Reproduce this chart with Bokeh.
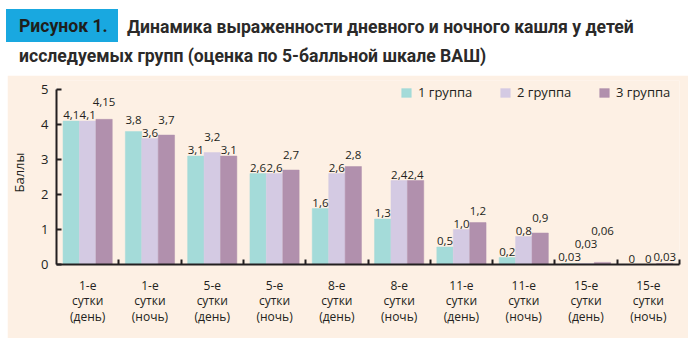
from bokeh.plotting import figure
from bokeh.models import (Range1d, FixedTicker, Legend, LegendItem, ColumnDataSource, Div)
from bokeh.layouts import column
from bokeh.core.properties import value
from bokeh.embed import file_html
from bokeh.resources import INLINE

# ---------------- data ----------------
categories = ["1-е\nсутки\n(день)", "1-е\nсутки\n(ночь)", "5-е\nсутки\n(день)", "5-е\nсутки\n(ночь)",
              "8-е\nсутки\n(день)", "8-е\nсутки\n(ночь)", "11-е\nсутки\n(день)", "11-е\nсутки\n(ночь)",
              "15-е\nсутки\n(день)", "15-е\nсутки\n(ночь)"]
series_names = ["1 группа", "2 группа", "3 группа"]
group1 = [4.1, 3.8, 3.1, 2.6, 1.6, 1.3, 0.5, 0.2, 0.03, 0]
group2 = [4.1, 3.6, 3.2, 2.6, 2.6, 2.4, 1.0, 0.8, 0.03, 0]
group3 = [4.15, 3.7, 3.1, 2.7, 2.8, 2.4, 1.2, 0.9, 0.06, 0.03]
y_ticks = [0, 1, 2, 3, 4, 5]
y_title = "Баллы"
fig_label = "Рисунок 1."
title_line1 = "Динамика выраженности дневного и ночного кашля у детей"
title_line2 = "исследуемых групп (оценка по 5-балльной шкале ВАШ)"

# ---------------- style ----------------
COLORS = ["#A4DBD9", "#D4CAE3", "#B190AD"]
PEACH = "#FDF0E4"
BLUE = "#19A8E0"
DARK = "#231F20"
FONT = "Open Sans"
FS = 11.5  # px, value labels

def fmt(v):
    if v == 0:
        return "0"
    s = f"{v:.1f}" if round(v, 1) == v else f"{v:.2f}"
    return s.replace(".", ",")

# ---------------- title (HTML text) ----------------
title_html = f"""
<div style="position:relative;width:693px;height:75px;background:#ffffff;
            font-family:Roboto, sans-serif;font-weight:bold;font-size:17.6px;line-height:20px;color:#2B2A29;">
  <div style="position:absolute;left:6px;top:9px;width:112px;height:33px;background:{BLUE};"></div>
  <div style="position:absolute;left:19px;top:16px;color:#1E1E1C;white-space:nowrap;">{fig_label}</div>
  <div style="position:absolute;left:127px;top:17px;white-space:nowrap;">{title_line1}</div>
  <div style="position:absolute;left:19px;top:46px;white-space:nowrap;">{title_line2}</div>
</div>
"""
header = Div(text=title_html, width=693, height=75, margin=0)

# ---------------- chart figure ----------------
n = len(categories)
p = figure(width=681, height=263, x_range=Range1d(0, n), y_range=Range1d(0, 5.26),
           min_border_left=40, min_border_right=9, min_border_top=5, min_border_bottom=74,
           toolbar_location=None, output_backend="svg",
           background_fill_color=PEACH, border_fill_color=PEACH, outline_line_color=None)
p.margin = (0, 5, 13, 7)
p.grid.visible = False

bar_w = 0.262
offsets = [-0.264, 0.0, 0.264]
series = [group1, group2, group3]
renderers = []
px_per_unit = 184 / 5.26
centers_px = 0.264 * 632 / n
dw, cw = 0.56 * FS, 0.27 * FS  # approx digit / comma widths

label_x, label_y, label_dy, label_txt = [], [], [], []
for ci in range(n):
    vals = [series[si][ci] for si in range(3)]
    txts = [fmt(v) for v in vals]
    widths = [sum(cw if ch == "," else dw for ch in t) for t in txts]
    cxs = [si * centers_px for si in range(3)]
    bottoms = [v * px_per_unit + 2 for v in vals]
    for _ in range(20):
        changed = False
        for i in range(3):
            for j in range(i + 1, 3):
                hov = (widths[i] + widths[j]) / 2 - abs(cxs[i] - cxs[j])
                dy = abs(bottoms[i] - bottoms[j])
                if dy < 13 and (hov > 1 or (hov > -3 and dy > 2)):
                    # raise the label of the taller bar (later one on ties)
                    up, other = (i, j) if vals[i] > vals[j] else (j, i)
                    bottoms[up] = bottoms[other] + 13
                    changed = True
        if not changed:
            break
    for si in range(3):
        label_x.append(ci + 0.5 + offsets[si])
        label_y.append(vals[si])
        label_dy.append(-(bottoms[si] - vals[si] * px_per_unit))
        label_txt.append(txts[si])

for si in range(3):
    src = ColumnDataSource(dict(x=[i + 0.5 + offsets[si] for i in range(n)], top=series[si]))
    r = p.vbar(x="x", top="top", width=bar_w, bottom=0, source=src,
               fill_color=COLORS[si], line_color=COLORS[si], line_width=0.5)
    renderers.append(r)

lsrc = ColumnDataSource(dict(x=label_x, y=label_y, dy=label_dy, t=label_txt))
p.text(x="x", y="y", text="t", y_offset="dy", source=lsrc, text_align="center",
       text_baseline="bottom", text_font=value(FONT), text_font_size=f"{FS}px",
       text_color=DARK)

# axes
xa = p.xaxis[0]
xa.ticker = FixedTicker(ticks=[i + 0.5 for i in range(n)], minor_ticks=list(range(1, n + 1)))
xa.major_label_overrides = {i + 0.5: categories[i] for i in range(n)}
xa.major_tick_in = 0
xa.major_tick_out = 0
xa.minor_tick_in = 5
xa.minor_tick_out = 0
xa.minor_tick_line_color = DARK
xa.minor_tick_line_width = 2
xa.axis_line_color = DARK
xa.axis_line_width = 2
xa.major_label_standoff = 12
xa.major_label_text_font = FONT
xa.major_label_text_font_size = "12px"
xa.major_label_text_color = DARK
xa.major_label_text_line_height = 0.93

ya = p.yaxis[0]
ya.ticker = FixedTicker(ticks=y_ticks)
ya.bounds = (0, 5)
ya.major_tick_in = 5
ya.major_tick_out = 0
ya.major_tick_line_color = DARK
ya.major_tick_line_width = 2
ya.minor_tick_line_color = None
ya.axis_line_color = DARK
ya.axis_line_width = 2
ya.major_label_standoff = 8
ya.major_label_text_font = FONT
ya.major_label_text_font_size = "13px"
ya.major_label_text_color = DARK
ya.axis_label = y_title
ya.axis_label_text_font = FONT
ya.axis_label_text_font_size = "13px"
ya.axis_label_text_font_style = "normal"
ya.axis_label_text_color = DARK
ya.axis_label_standoff = 10

legend = Legend(items=[LegendItem(label=series_names[i], renderers=[renderers[i]]) for i in range(3)],
                orientation="horizontal", location=(344, 163), padding=0, margin=0,
                spacing=19, glyph_width=12, glyph_height=11, label_standoff=6,
                label_width=62, label_height=11,
                label_text_font=FONT, label_text_font_size="13px", label_text_color=DARK,
                background_fill_alpha=0, border_line_color=None)
p.add_layout(legend)

layout = column(header, p, spacing=0)
open("out.html", "w").write(file_html(layout, INLINE))
